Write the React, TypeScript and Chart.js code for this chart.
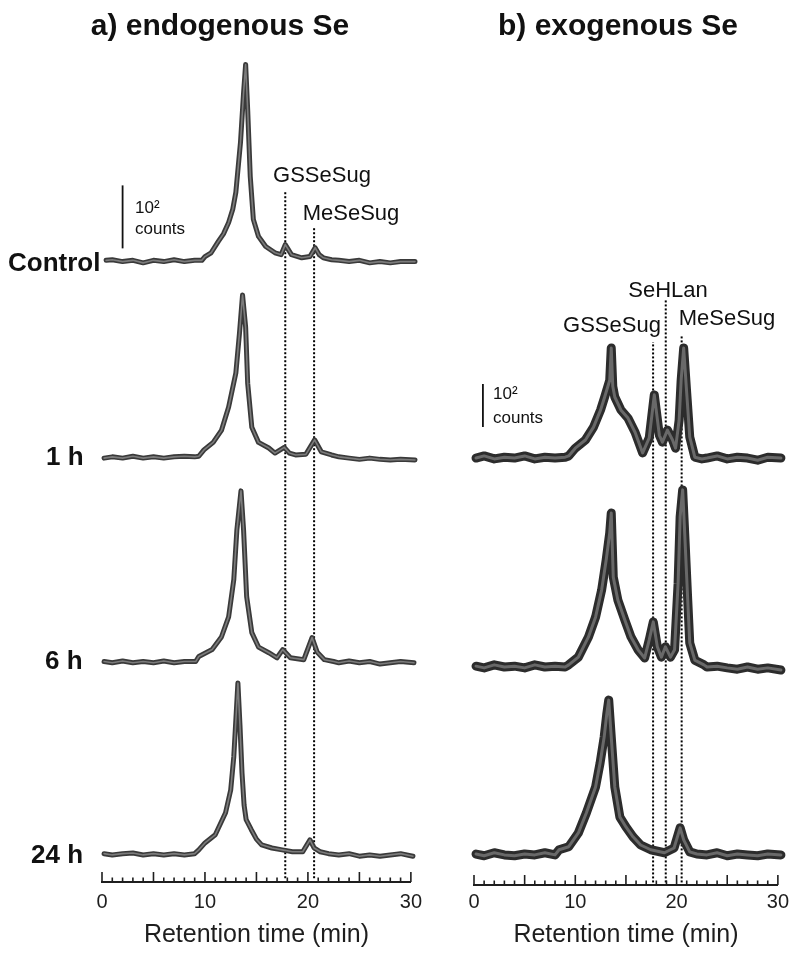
import React, { useEffect, useRef } from 'react';
import { Chart, registerables } from 'chart.js';

Chart.register(...registerables);

const FONT = "'Liberation Sans', Arial, Helvetica, sans-serif";

// ---------- shared axis ----------
const X_TICKS = [0, 10, 20, 30];
const MINOR_TICKS = Array.from({ length: 31 }, (_, i) => i);

// ---------- panel a: endogenous Se (counts above each trace baseline) ----------
const A_ROW_LABELS = ['Control', '1 h', '6 h', '24 h'];
const A_OFFSETS = [985, 673, 348, 43];

const A_CTRL_T = [0.4, 1, 2, 3, 4, 5, 6, 7, 8, 9, 9.7, 10.0, 10.6, 11.3, 11.8, 12.3, 12.7, 13.0, 13.45, 13.75, 13.95, 14.15, 14.4, 14.7, 15.2, 15.9, 16.8, 17.4, 17.8, 18.4, 19.4, 20.2, 20.7, 21.1, 21.5, 22.3, 23, 24, 25, 26, 27, 28, 29, 30.4];
const A_CTRL_Y = [2, 3, 0, 2, -2, 2, 0, 3, 0, 2, 2, 8, 14, 32, 44, 62, 83, 110, 189, 268, 313, 241, 135, 67, 40, 24, 14, 11, 27, 11, 6, 8, 22, 11, 6, 3, 2, 0, 2, -2, 0, -2, 0, 0];

const A_1H_T = [0.2, 1, 2, 3, 4, 5, 6, 7, 8, 9, 9.4, 9.9, 10.8, 11.6, 12.3, 13.0, 13.35, 13.65, 13.95, 14.15, 14.55, 15.2, 16.2, 16.8, 17.7, 18.2, 18.8, 19.8, 20.65, 21.3, 22.3, 23, 24, 25, 26, 27, 28, 29, 30.4];
const A_1H_Y = [0, 2, 0, 3, 0, 2, 0, 2, 3, 2, 3, 13, 25, 44, 81, 135, 198, 259, 208, 119, 49, 25, 16, 8, 17, 8, 5, 6, 29, 10, 5, 2, 0, -2, 0, -2, -3, -2, -3];

const A_6H_T = [0.2, 1, 2, 3, 4, 5, 6, 7, 8, 9.1, 9.4, 10.7, 11.6, 12.3, 12.8, 13.1, 13.5, 13.75, 14.05, 14.55, 15.2, 16.2, 17.0, 17.55, 18.3, 19.6, 20.4, 20.9, 21.6, 22.5, 23, 24, 25, 26, 27, 28, 29, 30.3];
const A_6H_Y = [2, 0, 3, 0, 2, 0, 3, 0, 2, 2, 10, 21, 41, 73, 132, 211, 273, 211, 105, 48, 25, 16, 8, 21, 8, 5, 40, 17, 5, 2, 0, 3, 0, 2, -2, 0, 2, 0];

const A_24H_T = [0.2, 1, 2, 3, 4, 5, 6, 7, 8, 9.0, 9.4, 10.0, 11.0, 12.0, 12.5, 12.8, 13.0, 13.2, 13.4, 13.6, 13.8, 14.0, 14.5, 15.0, 15.5, 16.5, 17.5, 18.5, 19.5, 20.2, 20.6, 21.2, 22, 23, 24, 25, 26, 27, 28, 29, 30.2];
const A_24H_Y = [2, 0, 2, 3, 0, 2, 0, 2, 0, 2, 8, 19, 32, 67, 103, 156, 214, 273, 206, 130, 79, 56, 40, 25, 16, 11, 8, 5, 5, 24, 11, 5, 2, 0, 2, -2, 0, -2, 0, 2, -2];

const A_MARK_NAMES = ['GSSeSug', 'MeSeSug'];
const A_MARK_TIMES = [17.8, 20.6];
const A_MARK_TOPS = [1098, 1040];
const A_SCALEBAR = { t: 2.0, from: 1006, to: 1106 };

// ---------- panel b: exogenous Se ----------
const B_OFFSETS = [993, 507, 70];

const B_1H_T = [0.2, 1, 2, 3, 4, 5, 6, 7, 8, 9, 9.35, 10.0, 11.0, 11.8, 12.5, 12.9, 13.4, 13.55, 13.7, 13.9, 14.5, 15.2, 15.9, 16.65, 17.3, 17.8, 18.3, 18.6, 19.1, 19.6, 19.9, 20.25, 20.45, 20.7, 21.0, 21.3, 21.8, 22.5, 23, 24, 25, 26, 27, 28, 29, 30.3];
const B_1H_Y = [0, 5, -2, 2, 0, 5, -2, 2, 0, 2, 5, 23, 42, 72, 112, 142, 181, 256, 167, 142, 112, 93, 60, 12, 47, 147, 53, 37, 65, 42, 23, 88, 181, 256, 151, 49, 2, -2, 0, 5, -2, 2, 0, -5, 2, 0];

const B_6H_T = [0.2, 1, 2, 3, 4, 5, 6, 7, 8, 9, 9.35, 10.3, 11.3, 12.0, 12.6, 13.05, 13.4, 13.55, 13.75, 14.2, 14.9, 15.5, 16.2, 16.85, 17.3, 17.7, 18.1, 18.5, 18.9, 19.4, 19.8, 20.15, 20.35, 20.6, 20.8, 21.1, 21.3, 21.8, 22.7, 23, 24, 25, 26, 27, 28, 29, 30.3];
const B_6H_Y = [2, -2, 5, 0, 2, -2, 5, 0, 2, 0, 5, 23, 70, 116, 179, 249, 312, 358, 209, 156, 109, 70, 40, 21, 63, 105, 47, 23, 47, 23, 40, 195, 349, 412, 312, 156, 56, 16, 5, 0, 2, -2, -5, 0, -5, -2, -7];

const B_24H_T = [0.2, 1, 2, 3, 4, 5, 6, 7, 8, 8.4, 9.35, 10.3, 11.1, 12.0, 12.45, 12.85, 13.1, 13.3, 13.55, 13.9, 14.4, 15.0, 15.7, 16.45, 17.45, 18.8, 19.75, 20.35, 20.7, 21.3, 22, 23, 24, 25, 26, 27, 28, 29, 30.3];
const B_24H_Y = [2, -2, 5, 0, -2, 2, 0, 5, 0, 12, 19, 51, 98, 158, 214, 274, 326, 360, 274, 158, 88, 65, 42, 23, 12, 5, 16, 63, 35, 7, 2, 0, 5, -2, 2, 0, -2, 2, 0];

const B_MARK_NAMES = ['GSSeSug', 'SeHLan', 'MeSeSug'];
const B_MARK_TIMES = [17.68, 18.93, 20.5];
const B_MARK_TOPS = [1263, 1360, 1279];
const B_SCALEBAR = { t: 0.88, from: 1065, to: 1165 };

// ---------- chart builder ----------
const minorTickPlugin = {
  id: 'minorTicks',
  afterDraw(chart: any) {
    const sc = chart.scales.x;
    const ctx = chart.ctx;
    const y0 = chart.chartArea.bottom;
    ctx.save();
    ctx.strokeStyle = '#1e1e1e';
    ctx.lineWidth = 1.6;
    MINOR_TICKS.forEach((v) => {
      const x = sc.getPixelForValue(v);
      const len = v % 5 === 0 ? 10 : 4.5;
      ctx.beginPath();
      ctx.moveTo(x, y0);
      ctx.lineTo(x, y0 - len);
      ctx.stroke();
    });
    ctx.restore();
  },
};

type PanelCfg = {
  traces: [number[], number[]][];
  offsets: number[];
  markTimes: number[];
  markTops: number[];
  bar: { t: number; from: number; to: number };
  yMax: number;
  padLeft: number;
  padRight: number;
  axisHeight: number;
  tickPad: number;
  outerWidth: number;
  innerWidth: number;
  outerColor: string;
  innerColor: string;
};

function buildChart(canvas: HTMLCanvasElement, c: PanelCfg) {
  const datasets: any[] = [];
  c.traces.forEach(([T, Y], i) => {
    const pts = T.map((t, j) => ({ x: t, y: c.offsets[i] + Y[j] }));
    datasets.push({
      data: pts, borderColor: c.innerColor, borderWidth: c.innerWidth,
      pointRadius: 0, tension: 0, clip: false, order: 0,
      borderJoinStyle: 'round', borderCapStyle: 'round',
    });
    datasets.push({
      data: pts, borderColor: c.outerColor, borderWidth: c.outerWidth,
      pointRadius: 0, tension: 0, clip: false, order: 1,
      borderJoinStyle: 'round', borderCapStyle: 'round',
    });
  });
  c.markTimes.forEach((t, i) => {
    datasets.push({
      data: [{ x: t, y: 6 }, { x: t, y: c.markTops[i] }],
      borderColor: '#000', borderWidth: 2, borderDash: [2, 2],
      pointRadius: 0, clip: false, order: 2,
    });
  });
  datasets.push({
    data: [{ x: c.bar.t, y: c.bar.from }, { x: c.bar.t, y: c.bar.to }],
    borderColor: '#111', borderWidth: 1.8, pointRadius: 0, clip: false, order: 2,
  });

  return new Chart(canvas, {
    type: 'line',
    data: { datasets },
    options: {
      animation: false,
      responsive: false,
      maintainAspectRatio: false,
      events: [],
      layout: { padding: { left: c.padLeft, right: c.padRight, top: 38, bottom: 0 } },
      plugins: { legend: { display: false }, tooltip: { enabled: false } },
      scales: {
        x: {
          type: 'linear',
          min: 0,
          max: 30,
          afterFit: (s: any) => { s.height = c.axisHeight; },
          afterBuildTicks: (s: any) => { s.ticks = X_TICKS.map((v) => ({ value: v })); },
          grid: { display: true, drawOnChartArea: false, drawTicks: false, color: 'rgba(0,0,0,0)' },
          border: { display: true, color: '#1e1e1e', width: 2 },
          ticks: {
            padding: c.tickPad, autoSkip: false, maxRotation: 0,
            color: '#1e1e1e', font: { size: 20, family: FONT },
          },
          title: {
            display: true, text: 'Retention time (min)', color: '#1e1e1e',
            font: { size: 25, family: FONT }, padding: { top: 0, bottom: 4 },
          },
        },
        y: { type: 'linear', display: false, min: 0, max: c.yMax },
      },
    } as any,
    plugins: [minorTickPlugin],
  });
}

const txt = (left: number, cy: number, size: number, bold = false, extra: any = {}) => ({
  position: 'absolute' as const,
  left,
  top: cy,
  transform: 'translateY(-50%)',
  fontFamily: FONT,
  fontSize: size,
  fontWeight: bold ? 700 : 400,
  lineHeight: 1,
  whiteSpace: 'nowrap' as const,
  color: '#111',
  ...extra,
});

const ctr = (cx: number, cy: number, size: number, bold = false) => ({
  ...txt(cx, cy, size, bold),
  transform: 'translate(-50%,-50%)',
});

export default function App() {
  const refA = useRef<HTMLCanvasElement>(null);
  const refB = useRef<HTMLCanvasElement>(null);

  useEffect(() => {
    Chart.defaults.font.family = FONT;
    const a = buildChart(refA.current!, {
      traces: [[A_CTRL_T, A_CTRL_Y], [A_1H_T, A_1H_Y], [A_6H_T, A_6H_Y], [A_24H_T, A_24H_Y]],
      offsets: A_OFFSETS,
      markTimes: A_MARK_TIMES,
      markTops: A_MARK_TOPS,
      bar: A_SCALEBAR,
      yMax: 1340,
      padLeft: 102,
      padRight: 18,
      axisHeight: 72,
      tickPad: 8,
      outerWidth: 5,
      innerWidth: 1.6,
      outerColor: '#3a3a3a',
      innerColor: '#7c7c7c',
    });
    const b = buildChart(refB.current!, {
      traces: [[B_1H_T, B_1H_Y], [B_6H_T, B_6H_Y], [B_24H_T, B_24H_Y]],
      offsets: B_OFFSETS,
      markTimes: B_MARK_TIMES,
      markTops: B_MARK_TOPS,
      bar: B_SCALEBAR,
      yMax: 1970,
      padLeft: 44,
      padRight: 12,
      axisHeight: 69,
      tickPad: 5,
      outerWidth: 9,
      innerWidth: 3,
      outerColor: '#2c2c2c',
      innerColor: '#696969',
    });
    return () => { a.destroy(); b.destroy(); };
  }, []);

  const rowLeft = [8, 46, 45, 31];
  const rowY = [262, 456, 660, 854];

  return (
    <div style={{ position: 'absolute', left: 0, top: 0, width: 794, height: 954, background: '#fff', overflow: 'hidden' }}>
      <canvas ref={refA} width={430} height={954} style={{ position: 'absolute', left: 0, top: 0 }} />
      <canvas ref={refB} width={364} height={954} style={{ position: 'absolute', left: 430, top: 0 }} />

      <div style={ctr(220, 25, 30, true)}>a) endogenous Se</div>
      <div style={ctr(618, 25, 30, true)}>b) exogenous Se</div>

      {A_ROW_LABELS.map((l, i) => (
        <div key={l} style={txt(rowLeft[i], rowY[i], 26, true)}>{l}</div>
      ))}

      <div style={ctr(322, 175, 22)}>{A_MARK_NAMES[0]}</div>
      <div style={ctr(351, 213, 22)}>{A_MARK_NAMES[1]}</div>
      <div style={txt(135, 207, 17)}>10²</div>
      <div style={txt(135, 228, 17)}>counts</div>

      <div style={ctr(612, 325, 22)}>{B_MARK_NAMES[0]}</div>
      <div style={ctr(668, 290, 22)}>{B_MARK_NAMES[1]}</div>
      <div style={ctr(727, 318, 22)}>{B_MARK_NAMES[2]}</div>
      <div style={txt(493, 393, 17)}>10²</div>
      <div style={txt(493, 417, 17)}>counts</div>
    </div>
  );
}
